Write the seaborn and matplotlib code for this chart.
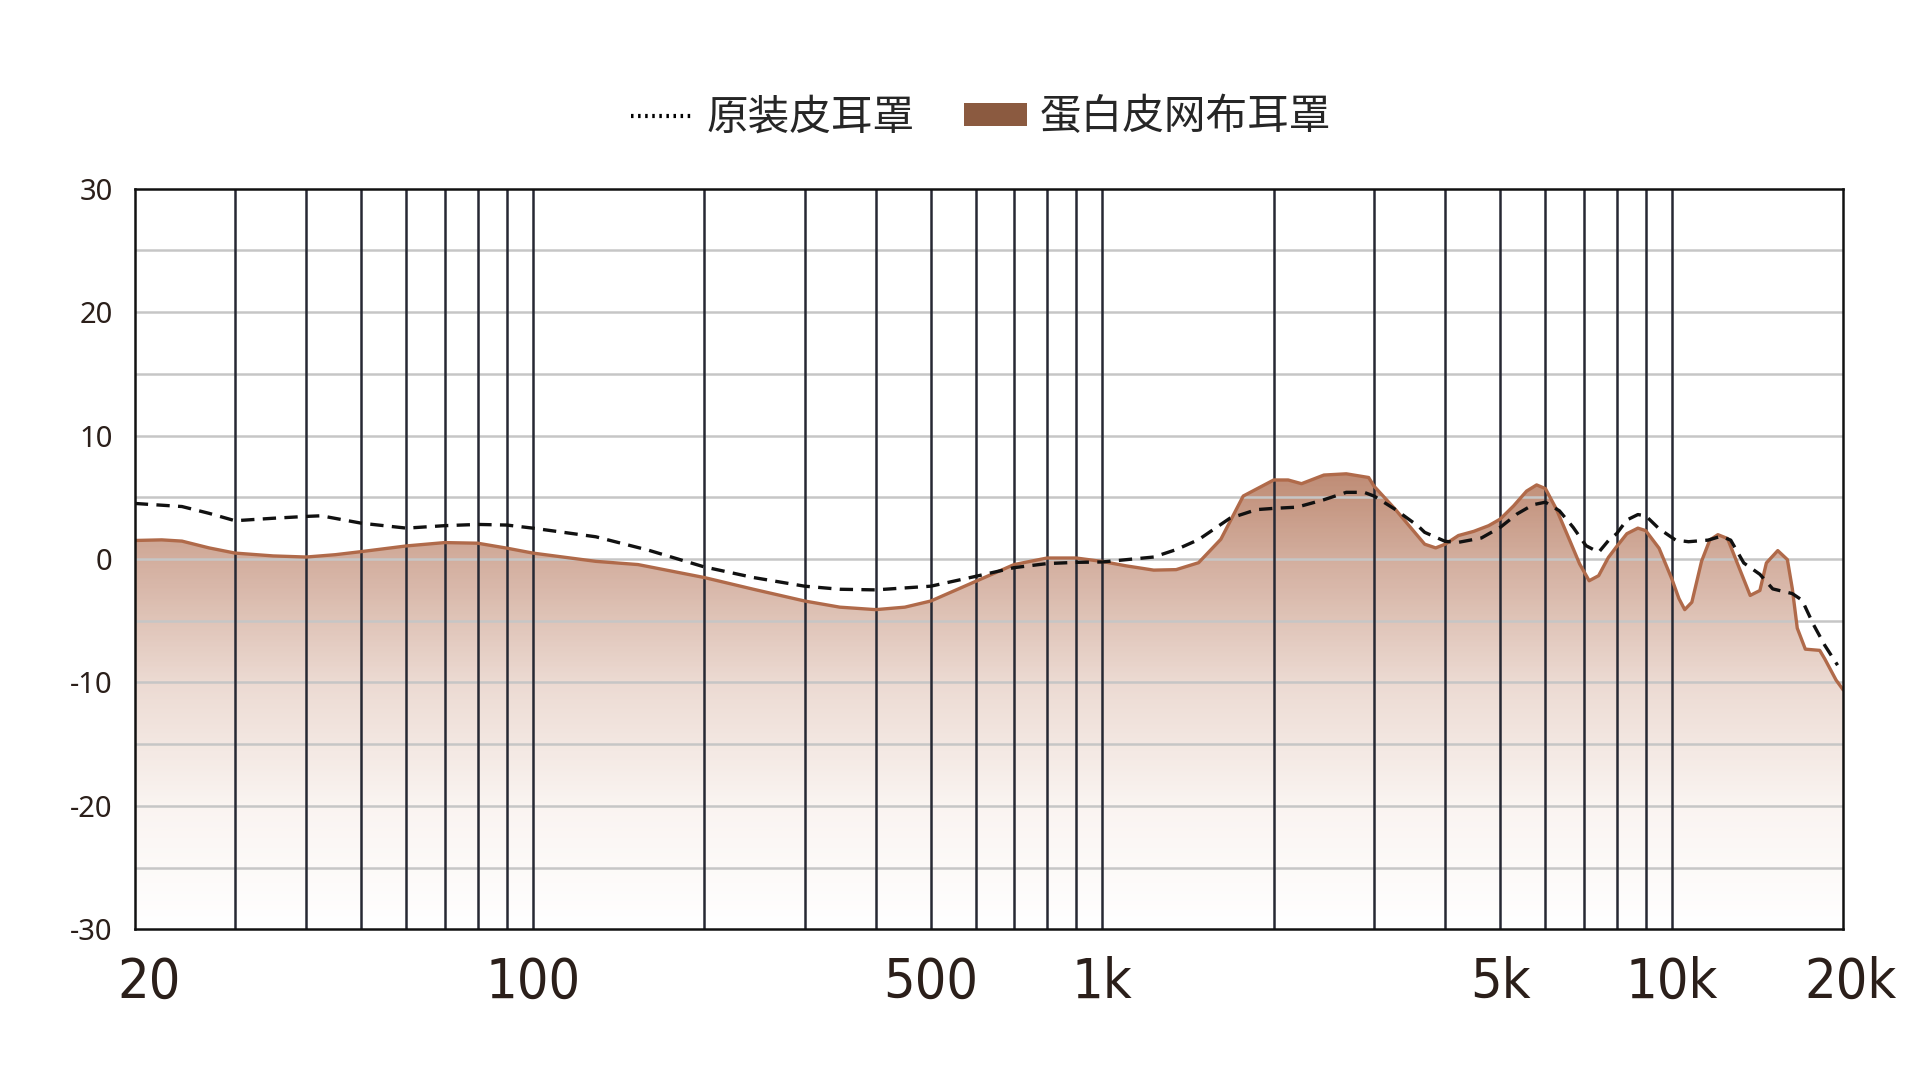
import numpy as np
import pandas as pd
import seaborn as sns
import matplotlib.pyplot as plt
import matplotlib.transforms as mtransforms
from matplotlib.colors import LinearSegmentedColormap
from matplotlib.lines import Line2D
from matplotlib.patches import Patch, PathPatch

sns.set_style("white")
plt.rcParams['font.family'] = ['Noto Sans CJK SC', 'DejaVu Sans']
plt.rcParams['axes.unicode_minus'] = False

# 蛋白皮网布耳罩 (filled curve)
freq_mesh = [20, 22.3, 24.2, 27, 30, 35, 40, 45, 50, 60, 70, 80, 90, 100, 129, 153,
             200, 244, 300, 346, 400, 450, 500, 600, 700, 800, 900, 1000, 1100, 1231,
             1348, 1476, 1615, 1768, 2000, 2120, 2238, 2450, 2682, 2936, 3000, 3273,
             3590, 3682, 3850, 4000, 4220, 4490, 4770, 5000, 5275, 5560, 5790, 6000,
             6270, 6620, 6890, 7160, 7440, 7740, 8000, 8340, 8720, 9000, 9500, 10000,
             10293, 10538, 10846, 11280, 11660, 12050, 12530, 13030, 13730, 14280,
             14660, 15350, 15960, 16280, 16610, 17160, 18190, 18570, 19430, 20000]
db_mesh = [1.5, 1.55, 1.45, 0.9, 0.48, 0.25, 0.16, 0.35, 0.6, 1.06, 1.33, 1.28, 0.88,
           0.48, -0.19, -0.45, -1.5, -2.45, -3.4, -3.9, -4.1, -3.9, -3.4, -1.8, -0.45,
           0.08, 0.08, -0.2, -0.55, -0.9, -0.86, -0.3, 1.6, 5.1, 6.4, 6.4, 6.1, 6.8,
           6.9, 6.6, 5.9, 4.0, 1.8, 1.2, 0.9, 1.2, 1.9, 2.24, 2.7, 3.24, 4.3, 5.5, 6.0,
           5.7, 4.05, 1.5, -0.4, -1.76, -1.35, 0.13, 1.0, 2.05, 2.5, 2.3, 0.87, -1.6,
           -3.2, -4.1, -3.5, -0.18, 1.53, 1.97, 1.66, -0.32, -2.95, -2.55, -0.32, 0.68,
           -0.05, -2.4, -5.6, -7.3, -7.4, -8.1, -9.8, -10.6]

# 原装皮耳罩 (dashed curve)
freq_orig = [20, 24.2, 27, 30, 35, 40, 42.5, 50, 60, 70, 80, 90, 100, 129, 160, 200,
             244, 300, 346, 400, 500, 600, 700, 800, 900, 1000, 1231, 1348, 1476, 1675,
             1866, 2000, 2198, 2450, 2682, 2882, 3000, 3273, 3590, 3682, 4000, 4220,
             4630, 5000, 5350, 5710, 6000, 6350, 6710, 7070, 7440, 7740, 8000, 8340,
             8720, 9000, 9500, 10160, 10700, 11580, 12200, 12690, 13380, 14280, 15040,
             16280, 16940, 17730, 18570, 19550]
db_orig = [4.5, 4.25, 3.7, 3.1, 3.3, 3.45, 3.5, 2.9, 2.5, 2.7, 2.8, 2.75, 2.5, 1.8, 0.7,
           -0.64, -1.5, -2.2, -2.45, -2.5, -2.2, -1.4, -0.7, -0.37, -0.27, -0.24, 0.16,
           0.76, 1.57, 3.3, 4.0, 4.1, 4.2, 4.8, 5.4, 5.4, 5.1, 4.0, 2.65, 2.16, 1.43,
           1.35, 1.7, 2.57, 3.65, 4.4, 4.6, 3.9, 2.57, 1.08, 0.54, 1.49, 2.05, 3.16, 3.6,
           3.5, 2.45, 1.53, 1.4, 1.53, 1.84, 1.53, -0.32, -1.24, -2.42, -2.8, -3.34,
           -5.3, -7.0, -8.6]

grid_freqs = [30, 40, 50, 60, 70, 80, 90, 100, 200, 300, 400, 500, 600, 700, 800, 900,
              1000, 2000, 3000, 4000, 5000, 6000, 7000, 8000, 9000, 10000]
xtick_vals = [20, 100, 500, 1000, 5000, 10000, 20000]
xtick_labels = ['20', '100', '500', '1k', '5k', '10k', '20k']
ytick_vals = [-30, -20, -10, 0, 10, 20, 30]

df_mesh = pd.DataFrame({'freq': freq_mesh, 'db': db_mesh})
df_orig = pd.DataFrame({'freq': freq_orig, 'db': db_orig})

brown_line = '#b06a4a'
text_col = '#2b1f1a'

fig = plt.figure(figsize=(19.2, 10.8), dpi=100)
ax = fig.add_axes([0.0702, 0.1394, 0.8898, 0.686])
ax.set_xscale('log')
ax.set_xlim(20, 20000)
ax.set_ylim(-30, 30)

# gradient fill under the mesh curve
grad_cmap = LinearSegmentedColormap.from_list('fade', [
    (0.0, '#ffffff'), (10 / 60, '#faf4f1'), (20 / 60, '#ecdad2'),
    (30 / 60, '#d3ae9e'), (37 / 60, '#bf8c75'), (1.0, '#b07a62')])
grad = np.linspace(0, 1, 400).reshape(-1, 1)
im = ax.imshow(grad, cmap=grad_cmap, aspect='auto', origin='lower',
               extent=[0, 1, 0, 1], transform=ax.transAxes, zorder=1)
poly = ax.fill_between(df_mesh['freq'], df_mesh['db'], -30, facecolor='none',
                       edgecolor='none')
clip = PathPatch(poly.get_paths()[0], transform=ax.transData, facecolor='none',
                 edgecolor='none')
ax.add_patch(clip)
im.set_clip_path(clip)

# grid
for y in range(-25, 30, 5):
    ax.axhline(y, color='#c6c6c6', lw=1.8, zorder=2)
for f in grid_freqs:
    ax.axvline(f, color='#262833', lw=1.8, zorder=3)

sns.lineplot(data=df_mesh, x='freq', y='db', color=brown_line, lw=2.4, ax=ax, zorder=4)
sns.lineplot(data=df_orig, x='freq', y='db', color='#111111', lw=2.4, ax=ax, zorder=5,
             linestyle=(0, (4, 2.5)))

ax.set_xlabel('')
ax.set_ylabel('')
ax.set_xticks(xtick_vals)
ax.set_xticklabels(xtick_labels)
ax.minorticks_off()
ax.set_yticks(ytick_vals)
ax.tick_params(axis='both', length=0)
ax.tick_params(axis='x', pad=19, labelsize=40, labelcolor=text_col)
ax.tick_params(axis='y', pad=16, labelsize=21, labelcolor=text_col)
for lab in ax.get_xticklabels():
    lab.set_family(['DejaVu Sans Condensed', 'DejaVu Sans'])
    lab.set_stretch('condensed')
xlabs = ax.get_xticklabels()
xlabs[0].set_transform(xlabs[0].get_transform() +
                       mtransforms.ScaledTranslation(0.14, 0, fig.dpi_scale_trans))
xlabs[-1].set_transform(xlabs[-1].get_transform() +
                        mtransforms.ScaledTranslation(0.07, 0, fig.dpi_scale_trans))
for lab in ax.get_yticklabels():
    lab.set_family(['Noto Sans', 'DejaVu Sans'])
for sp in ax.spines.values():
    sp.set_visible(True)
    sp.set_color('#111111')
    sp.set_linewidth(1.8)
    sp.set_zorder(6)

handles = [Line2D([0], [0], color='black', lw=3, linestyle=(0, (0.6, 1.1))),
           Patch(facecolor='#8b5a40', edgecolor='none')]
fig.legend(handles, ['原装皮耳罩', '蛋白皮网布耳罩'], loc='center',
           bbox_to_anchor=(0.511, 0.891), ncol=2, frameon=False,
           handlelength=1.5, handleheight=0.5, handletextpad=0.3, columnspacing=1.2,
           prop={'family': ['Noto Sans CJK SC', 'DejaVu Sans'], 'size': 30,
                 'weight': 'light'})

fig.savefig('out.png', dpi=100, facecolor='white')
